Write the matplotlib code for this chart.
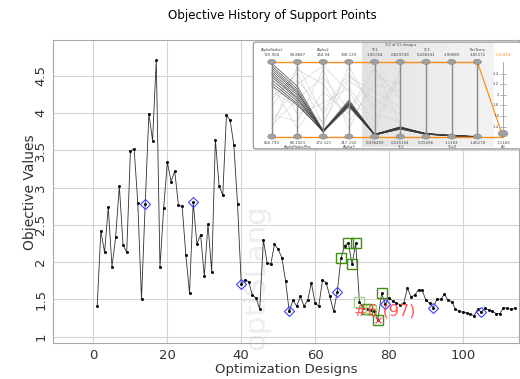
import numpy as np
import matplotlib.pyplot as plt
from matplotlib.patches import FancyBboxPatch, Ellipse

# objective value for each design (design numbers start at 1)
obj_values = [
    1.41, 2.42, 2.13, 2.74, 1.94, 2.33, 3.02, 2.23, 2.13, 3.49,
    3.52, 2.79, 1.50, 2.78, 3.99, 3.63, 4.71, 1.93, 2.73, 3.34,
    3.08, 3.22, 2.76, 2.75, 2.10, 1.58, 2.80, 2.24, 2.37, 1.81,
    2.51, 1.87, 3.64, 3.02, 2.90, 3.97, 3.90, 3.57, 2.78, 1.71,
    1.76, 1.74, 1.56, 1.52, 1.37, 2.30, 1.99, 1.97, 2.24, 2.17,
    2.06, 1.75, 1.34, 1.49, 1.41, 1.54, 1.41, 1.49, 1.72, 1.45,
    1.41, 1.76, 1.72, 1.54, 1.34, 1.60, 2.05, 2.22, 2.26, 1.97,
    2.25, 1.47, 1.38, 1.37, 1.36, 1.34, 1.23, 1.58, 1.44, 1.52,
    1.48, 1.45, 1.43, 1.45, 1.65, 1.53, 1.56, 1.63, 1.62, 1.49,
    1.45, 1.39, 1.51, 1.50, 1.57, 1.49, 1.47, 1.37, 1.34, 1.33,
    1.32, 1.31, 1.28, 1.37, 1.33, 1.38, 1.36, 1.34, 1.31, 1.31,
    1.39, 1.38, 1.37, 1.38,
]
designs = np.arange(1, len(obj_values) + 1)

# support points (every 13th design) and the selected designs
support_ids = [14, 27, 40, 53, 66, 79, 92, 105]
selected_ids = [67, 69, 70, 71, 72, 74, 75, 77, 78]
selected_light = [72, 75]
best_id = 77

xticks = [0, 20, 40, 60, 80, 100]
yticks = [1, 1.5, 2, 2.5, 3, 3.5, 4, 4.5]
ytick_labels = ['1', '1.5', '2', '2.5', '3', '3.5', '4', '4.5']

# parallel coordinates inset
pc_top = ['725.904', '94.8687', '264.94', '338.129', '1.92744', '0.829749',
          '0.436341', '2.99089', '3.85372']
pc_bottom = ['656.794', '68.1923', '172.121', '217.192', '0.036459', '0.225354',
             '0.15496', '1.1163', '1.46278', '1.1163']
pc_top_names = ['AlphaRadial', '', 'Alpha2', '', 'TC1', '', 'TC3', '', 'PosTemp']
pc_bottom_names = ['', 'AlphaRadialPos', '', 'Alpha3', '', 'TC2', '', 'TCall', '', 'All']
pc_dark = [
    [0.98, 0.67, 0.08, 0.49, 0.03, 0.12, 0.04, 0.01, 0.0],
    [0.95, 0.63, 0.07, 0.47, 0.03, 0.13, 0.04, 0.01, 0.0],
    [0.92, 0.60, 0.06, 0.45, 0.02, 0.11, 0.03, 0.01, 0.0],
    [0.89, 0.58, 0.08, 0.44, 0.03, 0.12, 0.04, 0.02, 0.0],
    [0.86, 0.55, 0.07, 0.42, 0.02, 0.10, 0.03, 0.01, 0.0],
    [0.83, 0.52, 0.06, 0.46, 0.03, 0.12, 0.04, 0.01, 0.0],
    [0.80, 0.50, 0.07, 0.43, 0.02, 0.11, 0.03, 0.01, 0.0],
    [0.76, 0.47, 0.08, 0.41, 0.03, 0.13, 0.04, 0.02, 0.0],
    [0.72, 0.44, 0.06, 0.40, 0.02, 0.10, 0.03, 0.01, 0.0],
    [0.68, 0.42, 0.07, 0.44, 0.03, 0.12, 0.04, 0.01, 0.0],
]
pc_light = [
    [0.10, 0.95, 0.30, 0.80, 0.60, 0.40],
    [0.30, 0.20, 0.90, 0.10, 0.80, 0.70],
    [0.50, 0.85, 0.15, 0.95, 0.30, 0.20],
    [0.70, 0.10, 0.60, 0.30, 0.90, 0.50],
    [0.20, 0.70, 0.95, 0.60, 0.10, 0.85],
    [0.60, 0.40, 0.20, 0.75, 0.50, 0.30],
    [0.40, 0.90, 0.70, 0.20, 0.70, 0.60],
    [0.85, 0.30, 0.45, 0.65, 0.20, 0.90],
    [0.15, 0.50, 0.80, 0.35, 0.95, 0.15],
    [0.55, 0.75, 0.35, 0.85, 0.40, 0.75],
]
pc_all_ticks = [1.4, 1.6, 1.8, 2.0, 2.2, 2.4]
pc_all_end = 1.21


def all_axis_pos(v):
    return 0.133 + (v - 1.4) * 0.711


fig = plt.figure(figsize=(5.2, 3.79), dpi=100)
ax = fig.add_axes([53 / 520, 1 - 343 / 379, 466 / 520, 303 / 379])

ax.plot(designs, obj_values, color='#303030', lw=0.6, marker='s', ms=1.0,
        mfc='black', mec='black', zorder=3)

sx = [d for d in support_ids]
sy = [obj_values[d - 1] for d in support_ids]
ax.plot(sx, sy, ls='none', marker='D', ms=5, mfc='none', mec='#4040ff',
        mew=0.8, zorder=4)

for d in selected_ids:
    c = '#a9d08e' if d in selected_light else '#3f8f10'
    ax.plot(d, obj_values[d - 1], ls='none', marker='s', ms=6.5, mfc='none',
            mec=c, mew=1.0, zorder=4)
ax.plot(best_id, obj_values[best_id - 1], ls='none', marker='x', ms=4,
        mec='#ff4040', mew=0.8, zorder=5)
ax.text(70.5, 1.29, '#6 (97)', color='#ff4a4a', fontsize=11.5, alpha=0.9,
        zorder=6)

# watermark
ax.text(44.2, 1.8, 'optiSLang', rotation=90, fontsize=21, color='#ededed',
        ha='center', va='center', zorder=1)

ax.set_xlim(-10.96, 115.2)
ax.set_ylim(0.916, 4.977)
ax.set_xticks(xticks)
ax.set_yticks(yticks)
ax.set_yticklabels(ytick_labels, rotation=90, va='center')
ax.tick_params(axis='both', labelsize=9.5, colors='#333333', length=0)
ax.tick_params(axis='x', pad=4)
ax.tick_params(axis='y', pad=4)
ax.grid(True, color='#d4d4d4', lw=0.8, zorder=0)
for s in ax.spines.values():
    s.set_color('#a8a8a8')
    s.set_linewidth(0.8)

fig.text(272 / 520, 1 - 15 / 379, 'Objective History of Support Points',
         ha='center', va='center', fontsize=8.6)
fig.text(30 / 520, 1 - 192 / 379, 'Objective Values', rotation=90,
         ha='center', va='center', fontsize=10, color='#333333')
fig.text(286 / 520, 1 - 369 / 379, 'Optimization Designs',
         ha='center', va='center', fontsize=9.5, color='#333333')

# inset with the parallel coordinates view
ins = fig.add_axes([252 / 520, 1 - 150 / 379, 268 / 520, 109 / 379])
ins.set_xlim(-0.77, 9.66)
ins.set_ylim(-0.18, 1.28)
ins.axis('off')
ins.add_patch(FancyBboxPatch((-0.7, -0.175), 10.5, 1.43,
                             boxstyle='round,pad=0,rounding_size=0.12',
                             fc='#dedede', ec='none', zorder=0,
                             mutation_aspect=0.2))
ins.add_patch(FancyBboxPatch((-0.72, -0.165), 10.5, 1.43,
                             boxstyle='round,pad=0,rounding_size=0.12',
                             fc='white', ec='#8c8c8c', lw=0.8, zorder=0,
                             mutation_aspect=0.2))
grad = np.linspace(0.0, 1.0, 64).reshape(1, -1)
ins.imshow(grad, extent=(3.5, 8.6, -0.14, 1.25), aspect='auto', cmap='Greys_r',
           vmin=-8, vmax=2, zorder=1)

xs_light = list(range(6))
for ln in pc_light:
    ins.plot(xs_light, ln, color='#cfcfcf', lw=0.4, zorder=2)
xs_dark = list(range(9))
for ln in pc_dark:
    ins.plot(xs_dark, ln, color='#3a3a3a', lw=0.45, zorder=3)

for i in range(9):
    ins.plot([i, i], [0, 1], color='#8a8a8a', lw=1.0, zorder=4)
ins.plot([0, 9], [0, 0], color='#ff8c1a', lw=1.0, zorder=5)
ins.plot([0, 8], [1, 1], color='#ff8c1a', lw=1.0, zorder=5)
ins.plot([8, 9], [1, all_axis_pos(pc_all_end)], color='#ff8c1a', lw=0.9,
         zorder=5)

for i in range(9):
    for yy in (0, 1):
        ins.add_patch(Ellipse((i, yy), 0.32, 0.07, fc='#a0a0a0', ec='#7a7a7a',
                              lw=0.3, zorder=6))
ins.add_patch(Ellipse((9, 0.04), 0.38, 0.09, fc='#a0a0a0', ec='#7a7a7a',
                      lw=0.3, zorder=6))

# "All" axis on the right
ins.plot([9, 9], [0, 1], color='#9a9a9a', lw=0.6, zorder=4)
for t in pc_all_ticks:
    p = all_axis_pos(t)
    ins.plot([8.9, 9.1], [p, p], color='#9a9a9a', lw=0.5, zorder=4)
    ins.text(8.85, p, '%g' % t, fontsize=2.8, ha='right', va='center',
             color='#555555', zorder=6)

for i, t in enumerate(pc_top):
    ins.text(i, 1.06, t, fontsize=2.8, ha='center', va='bottom',
             color='#444444', zorder=6)
    if pc_top_names[i]:
        ins.text(i, 1.13, pc_top_names[i], fontsize=2.6, ha='center',
                 va='bottom', color='#444444', zorder=6)
ins.text(9, 1.06, '1.15474', fontsize=2.8, ha='center', va='bottom',
         color='#ff8c1a', zorder=6)
ins.text(5, 1.2, '1(2 of 51 designs', fontsize=2.6, ha='center', va='bottom',
         color='#444444', zorder=6)
for i, t in enumerate(pc_bottom):
    ins.text(i, -0.06, t, fontsize=2.8, ha='center', va='top',
             color='#444444', zorder=6)
    if pc_bottom_names[i]:
        ins.text(i, -0.11, pc_bottom_names[i], fontsize=2.6, ha='center',
                 va='top', color='#444444', zorder=6)

fig.savefig('out.png', dpi=100)
